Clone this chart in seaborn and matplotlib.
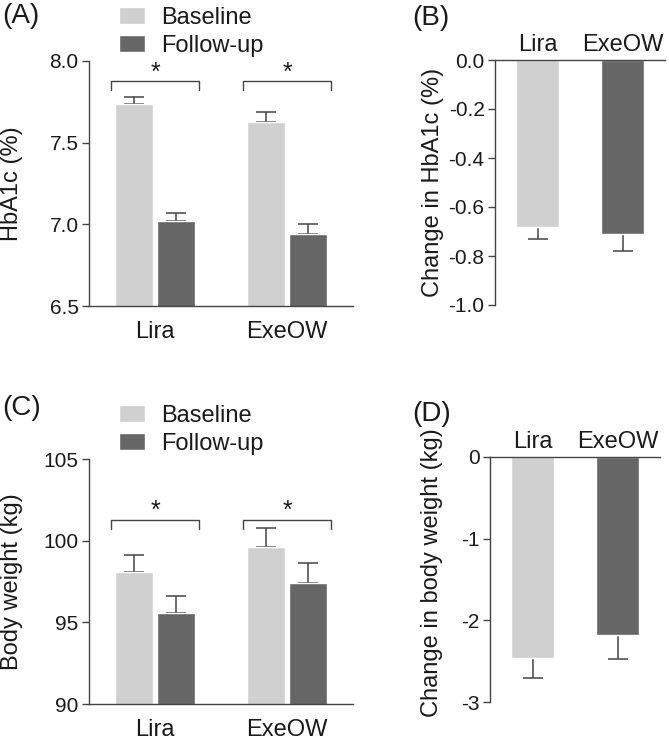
import numpy as np
import pandas as pd
import matplotlib
matplotlib.use("Agg")
import matplotlib.pyplot as plt
import seaborn as sns

# ---------------- data ----------------
groups = ["Lira", "ExeOW"]
phases = ["Baseline", "Follow-up"]

hba1c_baseline = [7.735, 7.625]
hba1c_followup = [7.02, 6.94]
hba1c_baseline_err = [0.045, 0.065]
hba1c_followup_err = [0.05, 0.06]

hba1c_change = [-0.68, -0.71]
hba1c_change_err = [0.05, 0.07]

bw_baseline = [98.1, 99.6]
bw_followup = [95.6, 97.4]
bw_baseline_err = [1.05, 1.15]
bw_followup_err = [1.0, 1.25]

bw_change = [-2.46, -2.18]
bw_change_err = [0.24, 0.29]

hba1c_ticks = [6.5, 7.0, 7.5, 8.0]
hba1c_change_ticks = [0.0, -0.2, -0.4, -0.6, -0.8, -1.0]
bw_ticks = [90, 95, 100, 105]
bw_change_ticks = [0, -1, -2, -3]

# ---------------- style ----------------
sns.set_style("ticks")
plt.rcParams["font.family"] = ["Liberation Sans", "DejaVu Sans"]
plt.rcParams["axes.unicode_minus"] = False

LIGHT = "#d0d0d0"
DARK = "#666666"
LINE = "#444444"
TXT = "#1a1a1a"

fig = plt.figure(figsize=(6.69, 7.40), dpi=100)
W, H = 669, 740


def axes_px(left, top, right, bottom):
    return fig.add_axes([left / W, (H - bottom) / H, (right - left) / W, (bottom - top) / H])


axA = axes_px(89, 61, 353, 306)
axB = axes_px(495, 60, 665, 305)
axC = axes_px(89, 459, 353, 704)
axD = axes_px(490, 457, 660, 702)


def add_errorbars(ax, errs_per_container):
    for cont, errs in zip(ax.containers, errs_per_container):
        for bar, e in zip(cont, errs):
            x = bar.get_x() + bar.get_width() / 2
            h = bar.get_height()
            yerr = [[0], [e]] if h >= 0 else [[e], [0]]
            ax.errorbar([x], [h], yerr=yerr, fmt="none", ecolor=LINE,
                        elinewidth=1.1, capsize=7.2, capthick=1.1, zorder=1)


def style_ticks(ax):
    ax.tick_params(axis="y", length=5, width=1.0, color=LINE, pad=2.5,
                   labelsize=15, labelcolor=TXT)


def grouped_panel(ax, base, fu, base_err, fu_err, ticks, ylabel, fmt, bracket_hi, bracket_lo, star_y):
    df = pd.DataFrame({
        "group": groups * 2,
        "phase": [phases[0]] * len(groups) + [phases[1]] * len(groups),
        "value": list(base) + list(fu),
    })
    sns.barplot(data=df, x="group", y="value", hue="phase", order=groups,
                hue_order=phases, palette=[LIGHT, DARK], saturation=1,
                width=0.64, gap=0.11, errorbar=None, ax=ax, zorder=2)
    add_errorbars(ax, [base_err, fu_err])
    ax.set_xlim(-0.5, 1.5)
    ax.set_ylim(ticks[0], ticks[-1])
    ax.set_yticks(ticks)
    ax.set_yticklabels([fmt.format(t) for t in ticks])
    ax.set_xlabel("")
    ax.set_ylabel(ylabel, fontsize=17, color=TXT)
    ax.yaxis.set_label_coords(-0.25, 0.5)
    sns.despine(ax=ax)
    for s in ["left", "bottom"]:
        ax.spines[s].set_color(LINE)
        ax.spines[s].set_linewidth(1.0)
    style_ticks(ax)
    ax.tick_params(axis="x", length=0, pad=11, labelsize=17, labelcolor=TXT)
    for i in range(len(groups)):
        ax.plot([i - 0.33, i - 0.33, i + 0.33, i + 0.33],
                [bracket_lo, bracket_hi, bracket_hi, bracket_lo],
                color=LINE, lw=1.0, clip_on=False)
        ax.text(i, star_y, "*", ha="center", va="center", fontsize=18, color=TXT)
    handles, labels = ax.get_legend_handles_labels()
    ax.legend(handles, labels, loc="upper left", bbox_to_anchor=(0.114, 1.22),
              frameon=False, fontsize=17, handlelength=1.1, handleheight=0.72,
              handletextpad=0.68, labelspacing=0.25, borderpad=0, borderaxespad=0,
              labelcolor=TXT)


def change_panel(ax, vals, errs, ticks, ylabel, fmt, label_x, label_y=0.5):
    sns.barplot(x=groups, y=vals, hue=groups, palette=[LIGHT, DARK], saturation=1,
                width=0.5, errorbar=None, legend=False, ax=ax, zorder=2)
    add_errorbars(ax, [[e] for e in errs])
    ax.set_xlim(-0.5, 1.5)
    ax.set_ylim(ticks[-1], ticks[0])
    ax.set_yticks(ticks)
    ax.set_yticklabels([fmt.format(t) for t in ticks])
    ax.xaxis.tick_top()
    ax.set_ylabel(ylabel, fontsize=17, color=TXT)
    ax.yaxis.set_label_coords(label_x, label_y)
    ax.spines["right"].set_visible(False)
    ax.spines["bottom"].set_visible(False)
    for s in ["left", "top"]:
        ax.spines[s].set_color(LINE)
        ax.spines[s].set_linewidth(1.0)
    style_ticks(ax)
    ax.tick_params(axis="x", length=0, pad=3, labelsize=17, labelcolor=TXT)


grouped_panel(axA, hba1c_baseline, hba1c_followup, hba1c_baseline_err, hba1c_followup_err,
              hba1c_ticks, "HbA1c (%)", "{:.1f}", 7.88, 7.82, 7.925)
grouped_panel(axC, bw_baseline, bw_followup, bw_baseline_err, bw_followup_err,
              bw_ticks, "Body weight (kg)", "{:.0f}", 101.25, 100.7, 101.8)
change_panel(axB, hba1c_change, hba1c_change_err, hba1c_change_ticks,
             "Change in HbA1c (%)", "{:.1f}", -0.30)
change_panel(axD, bw_change, bw_change_err, bw_change_ticks,
             "Change in body weight (kg)", "{:.0f}", -0.276, label_y=0.53)

for txt, x, y in [("(A)", 2, 16), ("(B)", 412, 18), ("(C)", 2, 408), ("(D)", 412, 414)]:
    fig.text(x / W, 1 - y / H, txt, fontsize=20, ha="left", va="center", color=TXT)

fig.savefig("out.png", dpi=100)
